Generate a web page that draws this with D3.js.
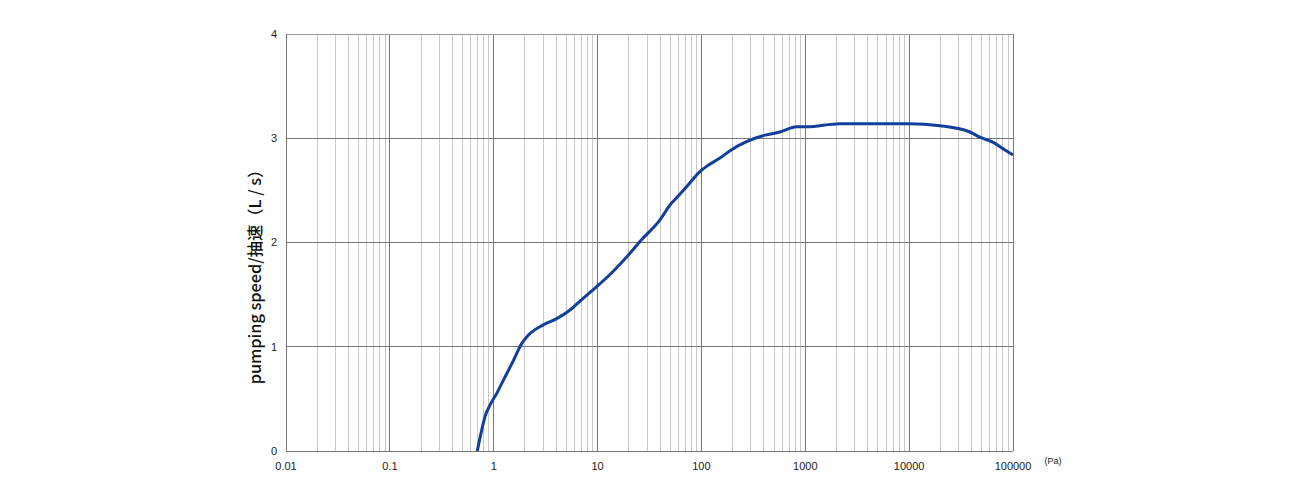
<!DOCTYPE html>
<html><head><meta charset="utf-8">
<script src="https://cdn.jsdelivr.net/npm/d3@7"></script>
<style>body{margin:0;background:#fff}</style>
</head><body>
<svg id="c" width="1300" height="500"></svg>
<script>
const pressure = [0.695, 0.766, 0.824, 0.92, 1.07, 1.24, 1.5, 1.86, 2.15, 3.0, 4.04, 5.4, 7.0, 9.8, 14, 20.5, 25.6, 39.9, 49.8, 57.7, 72, 96.8, 112, 151, 195, 410, 570, 826, 1030, 2140, 10000, 19800, 38500, 48000, 64500, 83000, 100000];
const speed    = [0, 0.20, 0.33, 0.44, 0.553, 0.68, 0.84, 1.03, 1.11, 1.21, 1.27, 1.35, 1.45, 1.576, 1.72, 1.896, 2.01, 2.216, 2.36, 2.43, 2.535, 2.68, 2.73, 2.81, 2.89, 3.03, 3.06, 3.11, 3.11, 3.14, 3.14, 3.12, 3.06, 3.01, 2.96, 2.89, 2.84];
const xTicks = [0.01, 0.1, 1, 10, 100, 1000, 10000, 100000];
const xTickLabels = ["0.01", "0.1", "1", "10", "100", "1000", "10000", "100000"];
const yTicks = [0, 1, 2, 3, 4];

const svg = d3.select("#c");
const L = 286, R = 1013, T = 34, B = 451;
const x = d3.scaleLog().domain([0.01, 100000]).range([L, R]);
const y = d3.scaleLinear().domain([0, 4]).range([B, T]);

// minor grid
const minor = [];
for (let e = -2; e < 5; e++) for (let k = 2; k <= 9; k++) minor.push(k * Math.pow(10, e));
svg.append("g").selectAll("line").data(minor).join("line")
  .attr("x1", d => x(d)).attr("x2", d => x(d)).attr("y1", T).attr("y2", B)
  .attr("stroke", "#c8c8c8").attr("stroke-width", 1).attr("shape-rendering", "crispEdges");
// major vertical
svg.append("g").selectAll("line").data(xTicks.slice(1)).join("line")
  .attr("x1", d => x(d)).attr("x2", d => x(d)).attr("y1", T).attr("y2", B)
  .attr("stroke", "#777").attr("stroke-width", 1).attr("shape-rendering", "crispEdges");
// horizontal
svg.append("g").selectAll("line").data(yTicks.slice(1, 4)).join("line")
  .attr("x1", L).attr("x2", R).attr("y1", d => y(d)).attr("y2", d => y(d))
  .attr("stroke", "#777").attr("stroke-width", 1).attr("shape-rendering", "crispEdges");
// top border
svg.append("line").attr("x1", L).attr("x2", R).attr("y1", T).attr("y2", T)
  .attr("stroke", "#999").attr("shape-rendering", "crispEdges");
// axes lines
svg.append("line").attr("x1", L).attr("x2", L).attr("y1", T).attr("y2", B)
  .attr("stroke", "#777").attr("shape-rendering", "crispEdges");
svg.append("line").attr("x1", L).attr("x2", R).attr("y1", B).attr("y2", B)
  .attr("stroke", "#777").attr("shape-rendering", "crispEdges");

// tick labels
svg.append("g").selectAll("text").data(xTicks).join("text")
  .attr("x", d => x(d)).attr("y", B + 19).attr("text-anchor", "middle")
  .attr("font-family", "Liberation Sans, Arial, sans-serif").attr("font-size", 11).attr("fill", "#222")
  .text((d, i) => xTickLabels[i]);
svg.append("g").selectAll("text").data(yTicks).join("text")
  .attr("x", L - 9).attr("y", d => y(d)).attr("dy", "0.35em").attr("text-anchor", "end")
  .attr("font-family", "Liberation Sans, Arial, sans-serif").attr("font-size", 11).attr("fill", "#222")
  .text(d => d);

svg.append("text").attr("x", 1053).attr("y", 464).attr("text-anchor", "middle")
  .attr("font-family", "Liberation Sans, Arial, sans-serif").attr("font-size", 9).attr("fill", "#222")
  .text("(Pa)");

svg.append("text").attr("transform", `translate(261,273) rotate(-90)`)
  .attr("text-anchor", "middle")
  .attr("font-family", "Noto Sans CJK SC, Liberation Sans, sans-serif").attr("font-size", 16.3)
  .attr("font-weight", 500).attr("fill", "#111")
  .text("pumping speed/抽速（L / s）");

// curve
const data = pressure.map((p, i) => [p, speed[i]]);
svg.append("path").datum(data)
  .attr("fill", "none").attr("stroke", "#123f9b").attr("stroke-width", 3)
  .attr("stroke-linejoin", "round")
  .attr("d", d3.line().x(d => x(d[0])).y(d => y(d[1])).curve(d3.curveMonotoneX));
</script>
</body></html>
